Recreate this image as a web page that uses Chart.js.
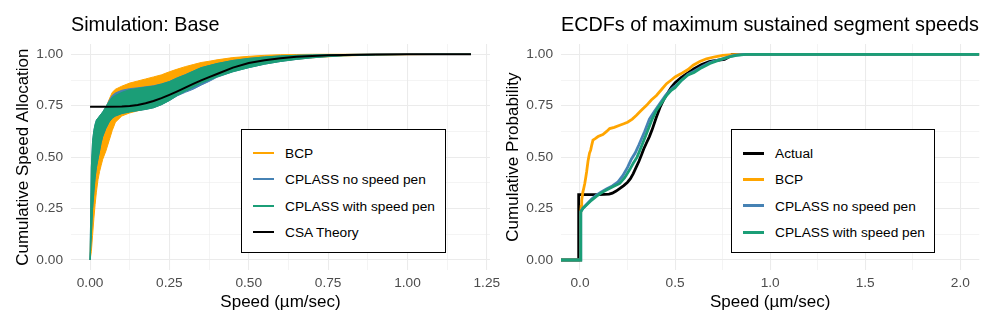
<!DOCTYPE html>
<html>
<head>
<meta charset="utf-8">
<script src="https://cdn.jsdelivr.net/npm/chart.js@4"></script>
<style>
  body { margin: 0; background: #fff; }
  #wrap { position: relative; width: 996px; height: 332px; overflow: hidden; font-family: "Liberation Sans", Arial, sans-serif; }
  canvas { position: absolute; top: 0; }
  .legend { position: absolute; border: 1px solid #000; background: #fff; box-sizing: border-box; padding-top: 10px; }
  .legend .row { position: relative; height: 26.3px; }
  .legend .key { position: absolute; top: 50%; width: 21px; }
  .legend .txt { position: absolute; top: 50%; transform: translateY(-50%); font-size: 13.7px; color: #000; white-space: nowrap; }
</style>
</head>
<body>
<div id="wrap">
  <canvas id="rightChart" width="500" height="332" style="left:496px"></canvas>
  <canvas id="leftChart" width="512" height="332" style="left:0"></canvas>
  <div id="leftLegend" class="legend" style="left:241px; top:129px; width:205px; height:124px"></div>
  <div id="rightLegend" class="legend" style="left:731px; top:129px; width:204px; height:124px"></div>
</div>
<script>
// ---------- left panel: Simulation: Base ----------
const leftTitle = 'Simulation: Base';
const leftYTitle = 'Cumulative Speed Allocation';
const speedTitle = 'Speed (\u00b5m/sec)';
const leftXMajor = [0, 0.25, 0.5, 0.75, 1.0, 1.25];
const leftXMinor = [0.125, 0.375, 0.625, 0.875, 1.125];
const yMajor = [0, 0.25, 0.5, 0.75, 1.0];
const yMinor = [0.125, 0.375, 0.625, 0.875];

// shared speed grid for the simulation bands
const bandSpeed = [0, 0.004, 0.008, 0.012, 0.016, 0.02, 0.025, 0.03, 0.035, 0.04, 0.05, 0.06, 0.07, 0.08, 0.1, 0.125, 0.15, 0.175, 0.2, 0.225, 0.25, 0.275, 0.3, 0.325, 0.35, 0.375, 0.4, 0.45, 0.5, 0.55, 0.6, 0.65, 0.7, 0.75, 0.8, 0.9, 1.0, 1.1, 1.2];
const bcpUpper = [0, 0.3, 0.42, 0.5, 0.56, 0.6, 0.64, 0.67, 0.69, 0.71, 0.74, 0.78, 0.815, 0.83, 0.845, 0.86, 0.87, 0.88, 0.89, 0.9, 0.915, 0.928, 0.94, 0.95, 0.96, 0.966, 0.973, 0.984, 0.99, 0.995, 0.998, 0.999, 1, 1, 1, 1, 1, 1, 1];
const bcpLower = [0, 0.04, 0.12, 0.2, 0.27, 0.33, 0.39, 0.43, 0.46, 0.49, 0.53, 0.58, 0.63, 0.67, 0.7, 0.715, 0.725, 0.735, 0.748, 0.765, 0.785, 0.81, 0.83, 0.85, 0.865, 0.88, 0.895, 0.92, 0.94, 0.955, 0.967, 0.976, 0.983, 0.988, 0.992, 0.996, 0.998, 0.999, 1];
const noPenUpper = [0, 0.45, 0.58, 0.63, 0.66, 0.68, 0.69, 0.7, 0.71, 0.72, 0.745, 0.775, 0.8, 0.812, 0.825, 0.833, 0.837, 0.842, 0.847, 0.856, 0.868, 0.886, 0.901, 0.918, 0.935, 0.945, 0.955, 0.97, 0.98, 0.987, 0.992, 0.995, 0.997, 0.998, 0.999, 1, 1, 1, 1];
const noPenLower = [0, 0.12, 0.25, 0.33, 0.4, 0.45, 0.49, 0.53, 0.57, 0.6, 0.64, 0.67, 0.69, 0.7, 0.712, 0.72, 0.726, 0.732, 0.74, 0.755, 0.775, 0.798, 0.815, 0.83, 0.85, 0.868, 0.888, 0.915, 0.935, 0.952, 0.965, 0.975, 0.983, 0.989, 0.993, 0.997, 0.999, 1, 1];
const withPenUpper = [0, 0.45, 0.58, 0.63, 0.66, 0.68, 0.69, 0.7, 0.71, 0.72, 0.745, 0.77, 0.79, 0.8, 0.815, 0.828, 0.834, 0.84, 0.845, 0.855, 0.867, 0.885, 0.9, 0.918, 0.935, 0.945, 0.955, 0.97, 0.98, 0.987, 0.992, 0.995, 0.997, 0.998, 0.999, 1, 1, 1, 1];
const withPenLower = [0, 0.12, 0.25, 0.33, 0.4, 0.45, 0.49, 0.53, 0.57, 0.6, 0.64, 0.67, 0.69, 0.7, 0.712, 0.72, 0.726, 0.732, 0.74, 0.755, 0.775, 0.8, 0.82, 0.84, 0.86, 0.875, 0.89, 0.915, 0.935, 0.952, 0.965, 0.975, 0.983, 0.989, 0.993, 0.997, 0.999, 1, 1];

const csaSpeed = [0, 0.05, 0.1, 0.125, 0.15, 0.175, 0.2, 0.225, 0.25, 0.275, 0.3, 0.325, 0.35, 0.375, 0.4, 0.45, 0.5, 0.55, 0.6, 0.65, 0.7, 0.75, 0.8, 0.9, 1.0, 1.1, 1.2];
const csaTheory = [0.745, 0.745, 0.746, 0.749, 0.754, 0.762, 0.773, 0.787, 0.803, 0.82, 0.838, 0.856, 0.873, 0.889, 0.904, 0.935, 0.958, 0.971, 0.981, 0.988, 0.992, 0.995, 0.997, 0.999, 1, 1, 1];

// ---------- right panel: ECDFs ----------
const rightTitle = 'ECDFs of maximum sustained segment speeds';
const rightYTitle = 'Cumulative Probability';
const rightXMajor = [0, 0.5, 1.0, 1.5, 2.0];
const rightXMinor = [0.25, 0.75, 1.25, 1.75];

const actualSpeed = [-0.1, -0.007, -0.007, 0.05, 0.1, 0.153, 0.17, 0.19, 0.21, 0.23, 0.25, 0.265, 0.28, 0.295, 0.31, 0.323, 0.335, 0.35, 0.365, 0.38, 0.4, 0.42, 0.44, 0.46, 0.48, 0.5, 0.53, 0.56, 0.6, 0.64, 0.68, 0.7, 0.72, 0.76, 0.78, 0.8, 2.1];
const actualProb = [0, 0, 0.318, 0.318, 0.318, 0.32, 0.325, 0.335, 0.348, 0.362, 0.378, 0.395, 0.42, 0.45, 0.48, 0.51, 0.54, 0.57, 0.6, 0.635, 0.69, 0.74, 0.78, 0.81, 0.84, 0.862, 0.885, 0.905, 0.93, 0.95, 0.965, 0.968, 0.97, 0.975, 0.985, 1, 1];
const bcpSpeed = [-0.1, 0.003, 0.003, 0.006, 0.009, 0.015, 0.02, 0.025, 0.03, 0.035, 0.042, 0.05, 0.056, 0.062, 0.068, 0.08, 0.095, 0.12, 0.14, 0.156, 0.18, 0.209, 0.23, 0.25, 0.275, 0.297, 0.32, 0.35, 0.375, 0.402, 0.43, 0.455, 0.48, 0.5, 0.53, 0.568, 0.595, 0.63, 0.665, 0.71, 0.75, 0.8, 0.84, 2.1];
const bcpProb = [0, 0, 0.22, 0.26, 0.29, 0.33, 0.35, 0.372, 0.4, 0.43, 0.48, 0.52, 0.534, 0.56, 0.583, 0.59, 0.6, 0.61, 0.625, 0.639, 0.645, 0.655, 0.662, 0.67, 0.685, 0.704, 0.725, 0.752, 0.778, 0.8, 0.83, 0.857, 0.875, 0.89, 0.905, 0.926, 0.947, 0.965, 0.978, 0.988, 0.995, 0.998, 1, 1];
const noPenSpeed = [-0.1, 0.004, 0.004, 0.015, 0.034, 0.06, 0.086, 0.11, 0.139, 0.17, 0.2, 0.225, 0.25, 0.27, 0.29, 0.31, 0.34, 0.365, 0.39, 0.42, 0.45, 0.48, 0.5, 0.53, 0.568, 0.6, 0.64, 0.683, 0.72, 0.75, 0.79, 0.82, 0.86, 2.1];
const noPenProb = [0, 0, 0.235, 0.252, 0.27, 0.295, 0.315, 0.33, 0.345, 0.36, 0.38, 0.41, 0.45, 0.49, 0.52, 0.56, 0.625, 0.685, 0.72, 0.76, 0.8, 0.83, 0.845, 0.87, 0.902, 0.918, 0.94, 0.96, 0.97, 0.978, 0.99, 0.996, 1, 1];
const withPenSpeed = [-0.1, 0.004, 0.004, 0.015, 0.034, 0.06, 0.086, 0.11, 0.139, 0.17, 0.209, 0.235, 0.26, 0.28, 0.3, 0.32, 0.35, 0.375, 0.402, 0.43, 0.455, 0.48, 0.5, 0.53, 0.568, 0.6, 0.64, 0.683, 0.72, 0.75, 0.79, 0.823, 0.873, 2.1];
const withPenProb = [0, 0, 0.235, 0.25, 0.267, 0.29, 0.309, 0.325, 0.34, 0.355, 0.372, 0.4, 0.437, 0.47, 0.5, 0.545, 0.615, 0.675, 0.728, 0.765, 0.8, 0.825, 0.838, 0.87, 0.9, 0.912, 0.935, 0.955, 0.968, 0.978, 0.988, 0.995, 1, 1];

const leftNames = ['BCP', 'CPLASS no speed pen', 'CPLASS with speed pen', 'CSA Theory'];
const leftColors = ['#FFA500', '#4682B4', '#1B9E77', '#000000'];
const rightNames = ['Actual', 'BCP', 'CPLASS no speed pen', 'CPLASS with speed pen'];
const rightColors = ['#000000', '#FFA500', '#4682B4', '#1B9E77'];

const FONT = '"Liberation Sans", Arial, sans-serif';

function pts(xs, ys) {
    return xs.map((x, i) => ({ x: x, y: ys[i] }));
}

function isIn(list, v) {
    return list.some(m => Math.abs(m - v) < 1e-9);
}

// panel title drawn at the left edge of the plot panel
const panelTitle = {
    id: 'panelTitle',
    afterDraw(chart, args, opts) {
        const ctx = chart.ctx;
        ctx.save();
        ctx.font = '19.8px ' + FONT;
        ctx.fillStyle = '#000';
        ctx.textBaseline = 'alphabetic';
        ctx.textAlign = 'left';
        ctx.fillText(opts.text, chart.chartArea.left, 31);
        ctx.restore();
    }
};

function axisX(min, max, major, minor, digits, titleText) {
    const all = major.concat(minor).sort((a, b) => a - b);
    return {
        type: 'linear',
        min: min,
        max: max,
        afterBuildTicks: (scale) => { scale.ticks = all.map(v => ({ value: v })); },
        afterFit: (scale) => {
            scale.height = 61.7;
            scale.paddingLeft = 0;
            scale.paddingRight = 0;
        },
        border: { display: false },
        grid: {
            drawTicks: false,
            color: '#EBEBEB',
            lineWidth: (c) => isIn(major, c.tick.value) ? 1.07 : 0.53
        },
        ticks: {
            autoSkip: false,
            maxRotation: 0,
            padding: 5,
            color: '#4D4D4D',
            font: { family: FONT, size: 13.7 },
            callback: (v) => isIn(major, v) ? v.toFixed(digits) : ''
        },
        title: {
            display: true,
            text: titleText,
            color: '#000',
            font: { family: FONT, size: 17 },
            padding: { top: 0, bottom: 19.3 }
        }
    };
}

function axisY(width, titlePad, titleText) {
    const all = yMajor.concat(yMinor).sort((a, b) => a - b);
    return {
        type: 'linear',
        min: -0.05,
        max: 1.05,
        afterBuildTicks: (scale) => { scale.ticks = all.map(v => ({ value: v })); },
        afterFit: (scale) => { scale.width = width; },
        border: { display: false },
        grid: {
            drawTicks: false,
            color: '#EBEBEB',
            lineWidth: (c) => isIn(yMajor, c.tick.value) ? 1.07 : 0.53
        },
        ticks: {
            autoSkip: false,
            padding: 8,
            color: '#4D4D4D',
            font: { family: FONT, size: 13.7 },
            callback: (v) => isIn(yMajor, v) ? v.toFixed(2) : ''
        },
        title: {
            display: true,
            text: titleText,
            color: '#000',
            font: { family: FONT, size: 17 },
            padding: { top: titlePad, bottom: 0 }
        }
    };
}

function band(upper, lower, color, order) {
    return [
        { data: pts(bandSpeed, upper), borderColor: color, backgroundColor: color, borderWidth: 1, fill: '+1', order: order },
        { data: pts(bandSpeed, lower), borderColor: color, backgroundColor: color, borderWidth: 1, fill: false, order: order }
    ];
}

const common = {
    responsive: false,
    animation: false,
    parsing: false,
    elements: { point: { radius: 0 }, line: { tension: 0 } },
    plugins: { legend: { display: false }, tooltip: { enabled: false } }
};

new Chart(document.getElementById('leftChart'), {
    type: 'line',
    data: {
        datasets: [
            ...band(bcpUpper, bcpLower, leftColors[0], 3),
            ...band(noPenUpper, noPenLower, leftColors[1], 2),
            ...band(withPenUpper, withPenLower, leftColors[2], 1),
            { data: pts(csaSpeed, csaTheory), borderColor: leftColors[3], borderWidth: 2, fill: false, order: 0 }
        ]
    },
    options: {
        ...common,
        layout: { padding: { left: 0, right: 22, top: 44, bottom: 0 } },
        plugins: { ...common.plugins, panelTitle: { text: leftTitle } },
        scales: {
            x: axisX(-0.06, 1.26, leftXMajor, leftXMinor, 2, speedTitle),
            y: axisY(71, 12.8, leftYTitle)
        }
    },
    plugins: [panelTitle]
});

const ecdfLine = (xs, ys, color, order) => ({
    data: pts(xs, ys), borderColor: color, borderWidth: 2.8, fill: false, order: order
});

new Chart(document.getElementById('rightChart'), {
    type: 'line',
    data: {
        datasets: [
            ecdfLine(actualSpeed, actualProb, rightColors[0], 3),
            ecdfLine(bcpSpeed, bcpProb, rightColors[1], 2),
            ecdfLine(noPenSpeed, noPenProb, rightColors[2], 1),
            ecdfLine(withPenSpeed, withPenProb, rightColors[3], 0)
        ]
    },
    options: {
        ...common,
        layout: { padding: { left: 0, right: 16.7, top: 44, bottom: 0 } },
        plugins: { ...common.plugins, panelTitle: { text: rightTitle } },
        scales: {
            x: axisX(-0.1, 2.1, rightXMajor, rightXMinor, 1, speedTitle),
            y: axisY(65, 6.8, rightYTitle)
        }
    },
    plugins: [panelTitle]
});

// legends
function buildLegend(id, names, colors, keyWidth) {
    const box = document.getElementById(id);
    names.forEach((name, i) => {
        const row = document.createElement('div');
        row.className = 'row';
        const key = document.createElement('div');
        key.className = 'key';
        key.style.left = '11px';
        key.style.height = keyWidth + 'px';
        key.style.marginTop = (-keyWidth / 2) + 'px';
        key.style.background = colors[i];
        const txt = document.createElement('div');
        txt.className = 'txt';
        txt.style.left = '43px';
        txt.textContent = name;
        row.appendChild(key);
        row.appendChild(txt);
        box.appendChild(row);
    });
}
buildLegend('leftLegend', leftNames, leftColors, 2);
buildLegend('rightLegend', rightNames, rightColors, 3);
</script>
</body>
</html>
